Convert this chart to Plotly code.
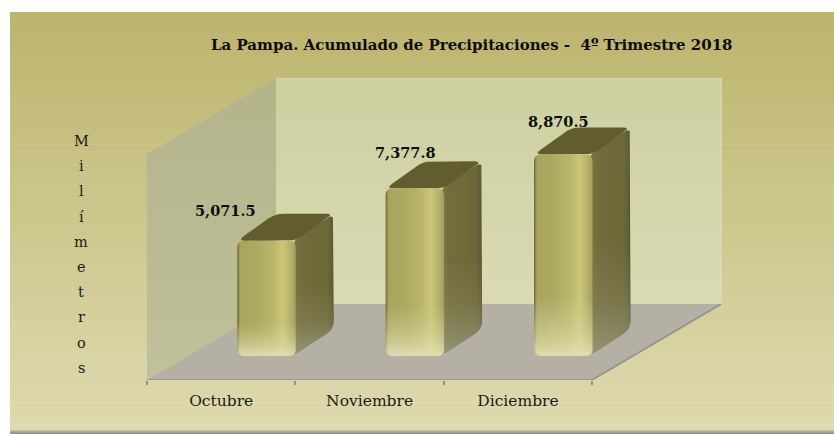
import math
import plotly.graph_objects as go

categories = ["Octubre", "Noviembre", "Diciembre"]
values = [5071.5, 7377.8, 8870.5]
labels = ["5,071.5", "7,377.8", "8,870.5"]
label_shift = [(-41, 30), (-9, 36), (-5, 33)]
title = "La Pampa. Acumulado de Precipitaciones -  4º Trimestre 2018"
axis_letters = list("Milímetros")

W, H = 834, 434
L, R, T, B = 147, 723, 78, 380          # plot area in pixels
CAT_W = 148.4                           # pixels per category
V_PER_PX = 44.0                         # value units per pixel
BASE_PX = 24                            # bars stand this far above the front edge
x_min, x_max = -0.5, -0.5 + (R - L) / CAT_W
y_min, y_max = -BASE_PX * V_PER_PX, (B - T - BASE_PX) * V_PER_PX
FONT = "DejaVu Serif"


def px_x(dx):
    return dx / CAT_W


def px_y(dy):
    return dy * V_PER_PX


def lerp(c1, c2, t):
    return tuple(a + (b - a) * t for a, b in zip(c1, c2))


fig = go.Figure()


def poly(xs, ys, color=None, grad=None, line=None):
    tr = dict(x=xs, y=ys, mode="lines", fill="toself", hoverinfo="skip",
              showlegend=False, line=dict(width=0, color="rgba(0,0,0,0)"))
    if line:
        tr["line"] = line
    if grad:
        tr["fillgradient"] = dict(type=grad[0], colorscale=grad[1])
        tr["fillcolor"] = "rgba(0,0,0,0)"
    else:
        tr["fillcolor"] = color
    fig.add_trace(go.Scatter(**tr))


def rounded(pts, r):
    """pts in axis units, r in pixels; returns a rounded polygon."""
    n = len(pts)
    xs, ys = [], []
    for i in range(n):
        p0, p1, p2 = pts[i - 1], pts[i], pts[(i + 1) % n]
        def toward(a, b):
            ax, ay = (b[0] - a[0]) * CAT_W, (b[1] - a[1]) / V_PER_PX
            d = math.hypot(ax, ay) or 1
            k = min(r, d / 2) / d
            return (a[0] + (b[0] - a[0]) * k, a[1] + (b[1] - a[1]) * k)
        a, c = toward(p1, p0), toward(p1, p2)
        for s in range(7):
            t = s / 6
            xs.append((1 - t) ** 2 * a[0] + 2 * t * (1 - t) * p1[0] + t * t * c[0])
            ys.append((1 - t) ** 2 * a[1] + 2 * t * (1 - t) * p1[1] + t * t * c[1])
    xs.append(xs[0])
    ys.append(ys[0])
    return xs, ys


# walls and floor
DX, DY = px_x(129), px_y(76)
x0, x1 = -0.5, 2.5
top = y_max
poly([x0 + DX, x1 + DX, x1 + DX, x0 + DX, x0 + DX], [y_min + DY, y_min + DY, top, top, y_min + DY],
     grad=("vertical", [[0, "#dadab4"], [1, "#ccd0a0"]]))
poly([x0, x0 + DX, x0 + DX, x0, x0], [y_min, y_min + DY, top, top - DY, y_min],
     grad=("vertical", [[0, "#c0c09a"], [1, "#b3b48a"]]))
poly([x0, x1, x1 + DX, x0 + DX, x0], [y_min, y_min, y_min + DY, y_min + DY, y_min], color="#b4b0a4")
fig.add_trace(go.Scatter(x=[x0, x1, x1 + DX], y=[y_min, y_min, y_min + DY], mode="lines",
                         line=dict(color="#8f9098", width=1.5), hoverinfo="skip", showlegend=False))
fig.add_trace(go.Scatter(x=[x0 + DX, x1 + DX, x1 + DX], y=[top, top, y_min + DY], mode="lines",
                         line=dict(color="#dedebc", width=1), hoverinfo="skip", showlegend=False))

# bars
BAR_HALF = 0.197
OFFSET = 0.305
B_DX, B_DY = px_x(38), px_y(27)
front_grad = [[0, "#6a6738"], [0.05, "#a8a45e"], [0.35, "#aeaa62"], [0.6, "#b9b568"],
              [0.78, "#cbc678"], [0.92, "#b4af6a"], [1, "#a19d5c"]]
side_grad = [[0, "#7c7844"], [0.2, "#716d3c"], [0.85, "#6b6737"], [0.96, "#605d34"], [1, "#4e4c30"]]
fade_front = [[0, "rgba(232,230,190,0.85)"], [0.08, "rgba(225,223,175,0.6)"],
              [0.3, "rgba(215,212,160,0)"], [1, "rgba(215,212,160,0)"]]
fade_side = [[0, "rgba(165,163,140,0.7)"], [0.25, "rgba(150,146,110,0.3)"],
             [0.5, "rgba(150,146,110,0)"], [1, "rgba(150,146,110,0)"]]
for i, v in enumerate(values):
    xl, xr = i + OFFSET - BAR_HALF, i + OFFSET + BAR_HALF
    # side
    sx, sy = rounded([(xr - px_x(3), 0), (xr + B_DX, B_DY), (xr + B_DX, v + B_DY), (xr - px_x(3), v)], 8)
    poly(sx, sy, grad=("horizontal", side_grad))
    poly(sx, sy, grad=("vertical", fade_side))
    # top
    tx, ty = rounded([(xl, v), (xr, v), (xr + B_DX, v + B_DY), (xl + B_DX, v + B_DY)], 8)
    poly(tx, ty, color="#625d2f")
    # front
    fx, fy = rounded([(xl, 0), (xr, 0), (xr, v), (xl, v)], 7)
    poly(fx, fy, grad=("horizontal", front_grad))
    poly(fx, fy, grad=("vertical", fade_front))

# data labels
annotations = []
for i, v in enumerate(values):
    annotations.append(dict(x=i + OFFSET, y=v, text=f"<b>{labels[i]}</b>", showarrow=False,
                            xanchor="center", yanchor="middle",
                            xshift=label_shift[i][0], yshift=label_shift[i][1],
                            font=dict(family=FONT, size=14.5, color="#0d0d0d")))
# title
annotations.append(dict(xref="paper", yref="paper", x=(472 - L) / (R - L), y=(B - 45) / (B - T),
                        xanchor="center", yanchor="middle",
                        text=f"<b>{title}</b>", showarrow=False,
                        font=dict(family=FONT, size=15, color="#0d0d0d")))
# vertical axis title
for k, ch in enumerate(axis_letters):
    annotations.append(dict(xref="paper", yref="paper", x=(81 - L) / (R - L),
                            y=(B - (141 + k * 25.2)) / (B - T), text=ch, showarrow=False,
                            xanchor="center", yanchor="middle",
                            font=dict(family=FONT, size=14.5, color="#1a1a1a")))

# background gradient bands
shapes = []
bg_top, bg_bot = (189, 181, 110), (222, 218, 174)
X0, X1, Y0, Y1 = 10, 834, 12, 430
N = 60
for k in range(N):
    ya = Y0 + (Y1 - Y0) * k / N
    yb = Y0 + (Y1 - Y0) * (k + 1) / N + 0.5
    c = lerp(bg_top, bg_bot, k / (N - 1))
    shapes.append(dict(type="rect", xref="paper", yref="paper", layer="below",
                       x0=(X0 - L) / (R - L), x1=(X1 - L) / (R - L),
                       y0=(B - ya) / (B - T), y1=(B - yb) / (B - T),
                       fillcolor="rgb(%d,%d,%d)" % c, line=dict(width=0)))
# soft shadow under the chart
for k, col in enumerate(["#c4c2a4", "#adac96", "#9c9c8c", "#8e8e84"]):
    shapes.append(dict(type="rect", xref="paper", yref="paper", layer="below",
                       x0=(X0 - L) / (R - L), x1=(X1 - L) / (R - L),
                       y0=(B - (Y1 + k)) / (B - T), y1=(B - (Y1 + k + 1)) / (B - T),
                       fillcolor=col, line=dict(width=0)))

fig.update_layout(
    width=W, height=H, autosize=False,
    margin=dict(l=L, r=W - R, t=T, b=H - B),
    paper_bgcolor="white", plot_bgcolor="rgba(0,0,0,0)",
    showlegend=False, shapes=shapes, annotations=annotations,
    xaxis=dict(range=[x_min, x_max], tickvals=[0, 1, 2], ticktext=categories, ticks="",
               showgrid=False, zeroline=False, showline=False, ticklabelstandoff=9,
               tickfont=dict(family=FONT, size=15.5, color="#1a1a1a"),
               minor=dict(tickvals=[-0.5, 0.5, 1.5, 2.5], ticks="outside", ticklen=4,
                          tickwidth=1.5, tickcolor="#8f9098", showgrid=False)),
    yaxis=dict(range=[y_min, y_max], visible=False),
)
fig.write_html("out.html", config={"displayModeBar": False},
               post_script="document.body.style.margin='0';")
